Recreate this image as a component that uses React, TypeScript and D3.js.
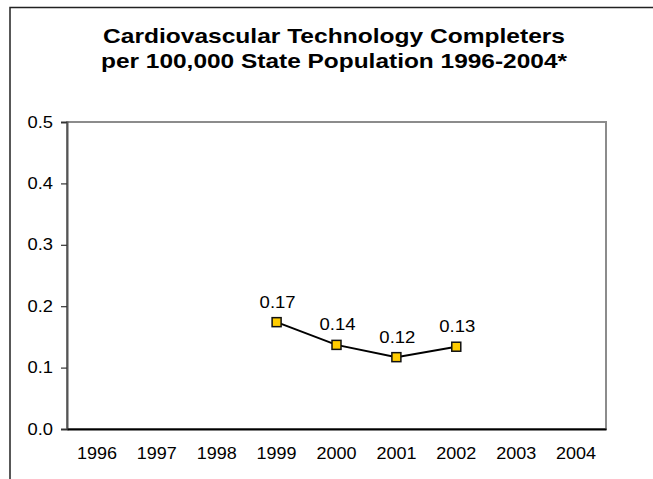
import React, { useRef, useEffect } from "react";
import * as d3 from "d3";

const years = ["1996", "1997", "1998", "1999", "2000", "2001", "2002", "2003", "2004"];
const pointYears = ["1999", "2000", "2001", "2002"];
const completers = [0.174, 0.137, 0.117, 0.134];
const pointLabels = ["0.17", "0.14", "0.12", "0.13"];
const yTicks = [0, 0.1, 0.2, 0.3, 0.4, 0.5];
const titleLines = [
  "Cardiovascular Technology Completers",
  "per 100,000 State Population 1996-2004*",
];

const W = 653;
const H = 479;
const FONT = "Arial, 'Liberation Sans', Helvetica, sans-serif";

const App: React.FC = () => {
  const svgRef = useRef<SVGSVGElement>(null);

  useEffect(() => {
    if (!svgRef.current) return;
    const svg = d3.select(svgRef.current);
    svg.selectAll("*").remove();

    const plot = { left: 67, right: 606, top: 122, bottom: 429 };

    // outer chart frame (cropped at right and bottom)
    svg
      .append("path")
      .attr("d", `M10,${H} L10,7.5 L${W},7.5`)
      .attr("fill", "none")
      .attr("stroke", "#222")
      .attr("stroke-width", 1.5);

    // title - the original glyphs are a bit wider than Arial, so stretch them
    svg
      .append("g")
      .selectAll("text")
      .data(titleLines)
      .enter()
      .append("text")
      .attr("x", 334)
      .attr("y", (d, i) => 43 + i * 25)
      .attr("text-anchor", "middle")
      .attr("font-family", FONT)
      .attr("font-weight", "bold")
      .attr("font-size", 20.5)
      .attr("textLength", (d, i) => (i === 0 ? 462 : 466))
      .attr("lengthAdjust", "spacingAndGlyphs")
      .attr("fill", "#000")
      .text((d) => d);

    const x = d3
      .scaleBand()
      .domain(years)
      .range([plot.left, plot.right])
      .padding(0);

    const y = d3
      .scaleLinear()
      .domain([0, 0.5])
      .range([plot.bottom, plot.top]);

    // plot area border (gray top/right)
    svg
      .append("rect")
      .attr("x", plot.left)
      .attr("y", plot.top)
      .attr("width", plot.right - plot.left)
      .attr("height", plot.bottom - plot.top)
      .attr("fill", "#fff")
      .attr("stroke", "#8c8c8c")
      .attr("stroke-width", 2);

    // y axis
    const yAxis = d3
      .axisLeft(y)
      .tickValues(yTicks)
      .tickSize(6)
      .tickPadding(8)
      .tickFormat(d3.format(".1f"));
    const gy = svg
      .append("g")
      .attr("transform", `translate(${plot.left},0)`)
      .call(yAxis);
    gy.select(".domain").attr("stroke", "#555").attr("stroke-width", 2);
    gy.selectAll(".tick line").attr("stroke", "#333").attr("stroke-width", 1.2);
    gy.selectAll(".tick text")
      .attr("font-family", FONT)
      .attr("font-size", 16)
      .attr("textLength", 25.5)
      .attr("lengthAdjust", "spacingAndGlyphs")
      .attr("fill", "#000");

    // x axis
    const xAxis = d3.axisBottom(x).tickSize(0).tickPadding(18.5);
    const gx = svg
      .append("g")
      .attr("transform", `translate(0,${plot.bottom})`)
      .call(xAxis);
    gx.select(".domain").attr("stroke", "#000").attr("stroke-width", 2);
    gx.selectAll(".tick text")
      .attr("font-family", FONT)
      .attr("font-size", 16)
      .attr("textLength", 40)
      .attr("lengthAdjust", "spacingAndGlyphs")
      .attr("fill", "#000");

    const pts = pointYears.map((yr, i) => ({
      year: yr,
      value: completers[i],
      label: pointLabels[i],
    }));
    const cx = (d: { year: string }) => (x(d.year) ?? 0) + x.bandwidth() / 2;

    const line = d3
      .line<{ year: string; value: number }>()
      .x((d) => cx(d))
      .y((d) => y(d.value));

    svg
      .append("path")
      .datum(pts)
      .attr("d", line)
      .attr("fill", "none")
      .attr("stroke", "#000")
      .attr("stroke-width", 2);

    svg
      .selectAll(".marker")
      .data(pts)
      .enter()
      .append("rect")
      .attr("class", "marker")
      .attr("x", (d) => cx(d) - 4.5)
      .attr("y", (d) => y(d.value) - 4.5)
      .attr("width", 9)
      .attr("height", 9)
      .attr("fill", "#FFCC00")
      .attr("stroke", "#111")
      .attr("stroke-width", 1.5);

    svg
      .selectAll(".point-label")
      .data(pts)
      .enter()
      .append("text")
      .attr("class", "point-label")
      .attr("x", (d) => cx(d) + 1)
      .attr("y", (d) => y(d.value) - 14.5)
      .attr("text-anchor", "middle")
      .attr("font-family", FONT)
      .attr("font-size", 16)
      .attr("textLength", 36)
      .attr("lengthAdjust", "spacingAndGlyphs")
      .attr("fill", "#000")
      .text((d) => d.label);
  }, []);

  return (
    <svg
      ref={svgRef}
      width={W}
      height={H}
      style={{ position: "absolute", left: 0, top: 0, background: "#fff" }}
    ></svg>
  );
};

export default App;
